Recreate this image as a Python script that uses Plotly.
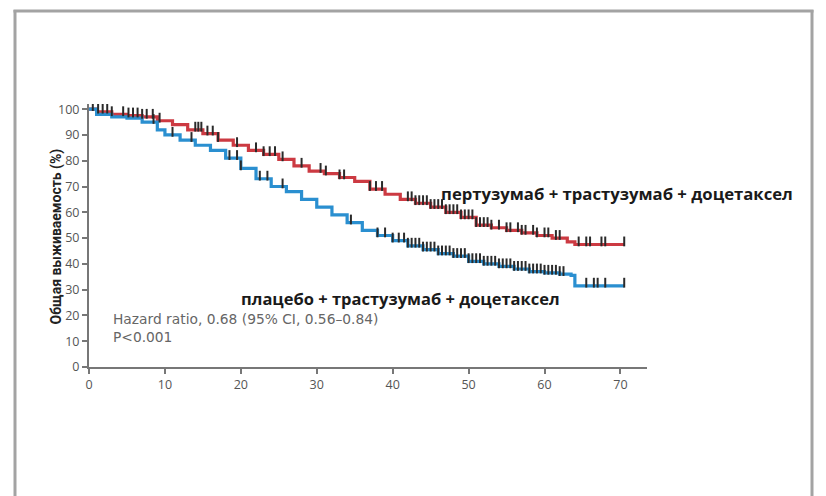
import plotly.graph_objects as go
import numpy as np

# ---- data ----
red_t = [0, 1, 3, 5, 7, 9, 11, 13, 15, 17, 19, 21, 23, 25, 27, 29, 31, 33, 35, 37, 39, 41, 43, 45, 47, 49, 51, 53, 55, 57, 59, 61, 63, 64, 70.5]
red_s = [100, 99, 98, 97.5, 97, 95.5, 94, 92, 90.5, 88, 86, 84, 82.5, 80.5, 78, 76, 75, 73.5, 72, 69, 67, 65, 63.5, 62, 60, 58, 55, 54, 53, 52, 51, 50, 48.5, 47.5, 47.5]
blue_t = [0, 1, 3, 5, 7, 9, 10, 12, 14, 16, 18, 20, 22, 24, 26, 28, 30, 32, 34, 36, 38, 40, 42, 44, 46, 48, 50, 52, 54, 56, 58, 60, 62, 63.5, 64, 70.5]
blue_s = [100, 98, 97, 96.5, 95, 92, 90, 88, 86, 84, 81, 77, 73, 70, 68, 65, 62, 59, 56, 53, 51, 49, 47, 45.5, 44, 43, 41, 40, 39, 38, 37, 36.5, 36, 35.5, 31.5, 31.5]

red_cens = [0.5, 1.2, 1.8, 2.4, 3, 4.5, 5.2, 5.8, 6.4, 7, 7.6, 8.4, 9.3, 14, 14.4, 14.8, 15.6, 16.3, 17, 19.5, 22, 23, 23.8, 24.5, 25.5, 28, 30.5, 31.2, 33, 33.6, 37, 37.8, 38.6,
            42, 42.5, 43, 43.5, 44, 44.5, 45, 45.5, 46, 46.5, 47, 47.5, 48, 48.5, 49, 49.5, 50, 50.5, 51, 51.5, 52, 52.5, 53,
            54, 55, 55.5, 56.5, 57, 57.5, 58.5, 59, 60, 60.5, 61.5, 62, 64.5, 65.5, 66, 67.5, 68, 70.5]
blue_cens = [8.5, 11, 13.5, 18.5, 19.5, 20, 22.5, 23.5, 25.5, 34.5, 38, 39, 40, 40.8, 41.5, 42, 42.5, 43, 43.5, 44, 44.5, 45, 45.5, 46, 46.5, 47, 47.5, 48, 48.5,
             49, 49.5, 50, 50.5, 51, 51.5, 52, 52.5, 53, 53.5, 54, 54.5, 55, 55.5, 56, 56.5, 57, 57.5, 58, 58.5, 59, 59.5, 60, 60.5, 61, 61.5, 62, 62.5,
             65.5, 66.5, 67, 68, 70.5]

x_ticks = [0, 10, 20, 30, 40, 50, 60, 70]
y_ticks = [0, 10, 20, 30, 40, 50, 60, 70, 80, 90, 100]

label_red = "пертузумаб + трастузумаб + доцетаксел"
label_blue = "плацебо + трастузумаб + доцетаксел"
hr_text = "Hazard ratio, 0.68 (95% CI, 0.56–0.84)<br>P<0.001"
y_title = "Общая выживаемость (%)"

RED = "#cc3a42"
BLUE = "#2a8fd0"


def step_at(ts, ss, t):
    idx = np.searchsorted(np.array(ts), t, side="right") - 1
    return ss[max(idx, 0)]


fig = go.Figure()
fig.add_trace(go.Scatter(x=red_t, y=red_s, mode="lines", line=dict(color=RED, width=3.2, shape="hv"),
                         showlegend=False, hoverinfo="skip"))
fig.add_trace(go.Scatter(x=blue_t, y=blue_s, mode="lines", line=dict(color=BLUE, width=3.2, shape="hv"),
                         showlegend=False, hoverinfo="skip"))
fig.add_trace(go.Scatter(x=red_cens, y=[step_at(red_t, red_s, t) + 1.2 for t in red_cens], mode="markers",
                         marker=dict(symbol="line-ns", size=7, line=dict(color="#2a2a2a", width=2)),
                         showlegend=False, hoverinfo="skip"))
fig.add_trace(go.Scatter(x=blue_cens, y=[step_at(blue_t, blue_s, t) + 1.2 for t in blue_cens], mode="markers",
                         marker=dict(symbol="line-ns", size=7, line=dict(color="#2a2a2a", width=2)),
                         showlegend=False, hoverinfo="skip"))

# page offset of the figure (body margin)
OFF = 8
W, H = 826 - OFF, 496 - OFF
L, R, T, B = 89 - OFF, 826 - 647, 104 - OFF, 496 - 367
pw, ph = W - L - R, H - T - B


def px(xp):
    return (xp - OFF - L) / pw


def py(yp):
    return 1 - (yp - OFF - T) / ph


fig.update_layout(
    width=W, height=H,
    margin=dict(l=L, r=R, t=T, b=B, autoexpand=False),
    paper_bgcolor="white", plot_bgcolor="white",
    font=dict(family="Open Sans", color="#555555", size=12),
    xaxis=dict(range=[0, 73.5], tickvals=x_ticks, ticks="outside", ticklen=5, tickwidth=1.5,
               tickcolor="#777777", showline=True, linecolor="#777777", linewidth=2,
               showgrid=False, zeroline=False, tickfont=dict(size=12.5, color="#555555")),
    yaxis=dict(range=[0, 102], tickvals=y_ticks, ticks="outside", ticklen=5, tickwidth=1.5,
               tickcolor="#777777", showline=True, linecolor="#777777", linewidth=2,
               showgrid=False, zeroline=False, tickfont=dict(size=12.5, color="#555555")),
    shapes=[
        dict(type="line", xref="paper", yref="paper", x0=px(15), x1=px(15), y0=py(10), y1=py(520),
             line=dict(color="#a3a3a3", width=3)),
        dict(type="line", xref="paper", yref="paper", x0=px(812), x1=px(812), y0=py(10), y1=py(520),
             line=dict(color="#a3a3a3", width=3)),
        dict(type="line", xref="paper", yref="paper", x0=px(13.5), x1=px(813.5), y0=py(11), y1=py(11),
             line=dict(color="#a3a3a3", width=3)),
    ],
    annotations=[
        dict(x=px(45), y=py(237), xref="paper", yref="paper", text=y_title, textangle=-90, showarrow=False,
             font=dict(family="Roboto", size=14, color="#222222", weight="bold")),
        dict(x=px(439), y=py(193), xref="paper", yref="paper", text=label_red, showarrow=False,
             xanchor="left", font=dict(family="Open Sans", size=16.7, color="#1a1a1a", weight="bold")),
        dict(x=px(239), y=py(312), xref="paper", yref="paper", text=label_blue, showarrow=False,
             xanchor="left", font=dict(family="Open Sans", size=16.5, color="#1a1a1a", weight="bold")),
        dict(x=px(111), y=py(347), xref="paper", yref="paper", text=hr_text, showarrow=False,
             xanchor="left", align="left", font=dict(family="DejaVu Sans", size=13.8, color="#666666")),
    ],
)

fig.write_html("out.html")
